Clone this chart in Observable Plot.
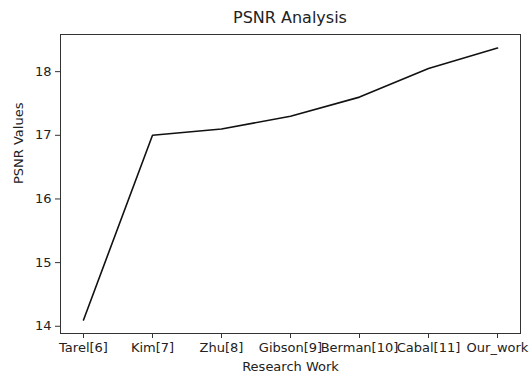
<!DOCTYPE html>
<html>
<head>
<meta charset="utf-8">
<script src="https://cdn.jsdelivr.net/npm/d3@7"></script>
<script src="https://cdn.jsdelivr.net/npm/@observablehq/plot@0.6"></script>
<style>
  body { margin: 0; background: #fff; font-family: "DejaVu Sans", sans-serif; }
  #title { margin-left: 60px; width: 460px; height: 28px; line-height: 28px; padding-top: 4px; box-sizing: border-box; text-align: center; font-size: 16px; color: #222; }
</style>
</head>
<body>
<div id="title">PSNR Analysis</div>
<div id="chart"></div>
<script>
const categories = ["Tarel[6]", "Kim[7]", "Zhu[8]", "Gibson[9]", "Berman[10]", "Cabal[11]", "Our_work"];
const psnr = [14.1, 17.0, 17.1, 17.3, 17.6, 18.05, 18.37];
const yTicks = [14, 15, 16, 17, 18];

const data = categories.map((c, i) => ({work: c, value: psnr[i]}));
const ymin = d3.min(psnr), ymax = d3.max(psnr), pad = (ymax - ymin) * 0.05;

const chart = Plot.plot({
  width: 530,
  height: 350,
  marginTop: 6,
  marginBottom: 45,
  marginLeft: 60,
  marginRight: 10,
  style: {fontFamily: "DejaVu Sans, sans-serif", fontSize: "13px", color: "#222", background: "#fff"},
  x: {type: "point", domain: categories, padding: 0.3},
  y: {domain: [ymin - pad, ymax + pad]},
  marks: [
    Plot.axisX({tickSize: 5, tickPadding: 4, fontSize: 13, label: null, stroke: "#333"}),
    Plot.axisY({ticks: yTicks, tickFormat: d3.format("d"), tickSize: 5, tickPadding: 4, fontSize: 13, label: null, stroke: "#333"}),
    Plot.line(data, {x: "work", y: "value", stroke: "#111", strokeWidth: 1.6}),
    Plot.frame({stroke: "#333", strokeWidth: 1}),
    Plot.text(["Research Work"], {frameAnchor: "bottom", dy: 37, fontSize: 13, fill: "#222"}),
    Plot.text(["PSNR Values"], {frameAnchor: "left", dx: -42, rotate: -90, fontSize: 13, fill: "#222"})
  ]
});
document.getElementById("chart").appendChild(chart);
</script>
</body>
</html>
